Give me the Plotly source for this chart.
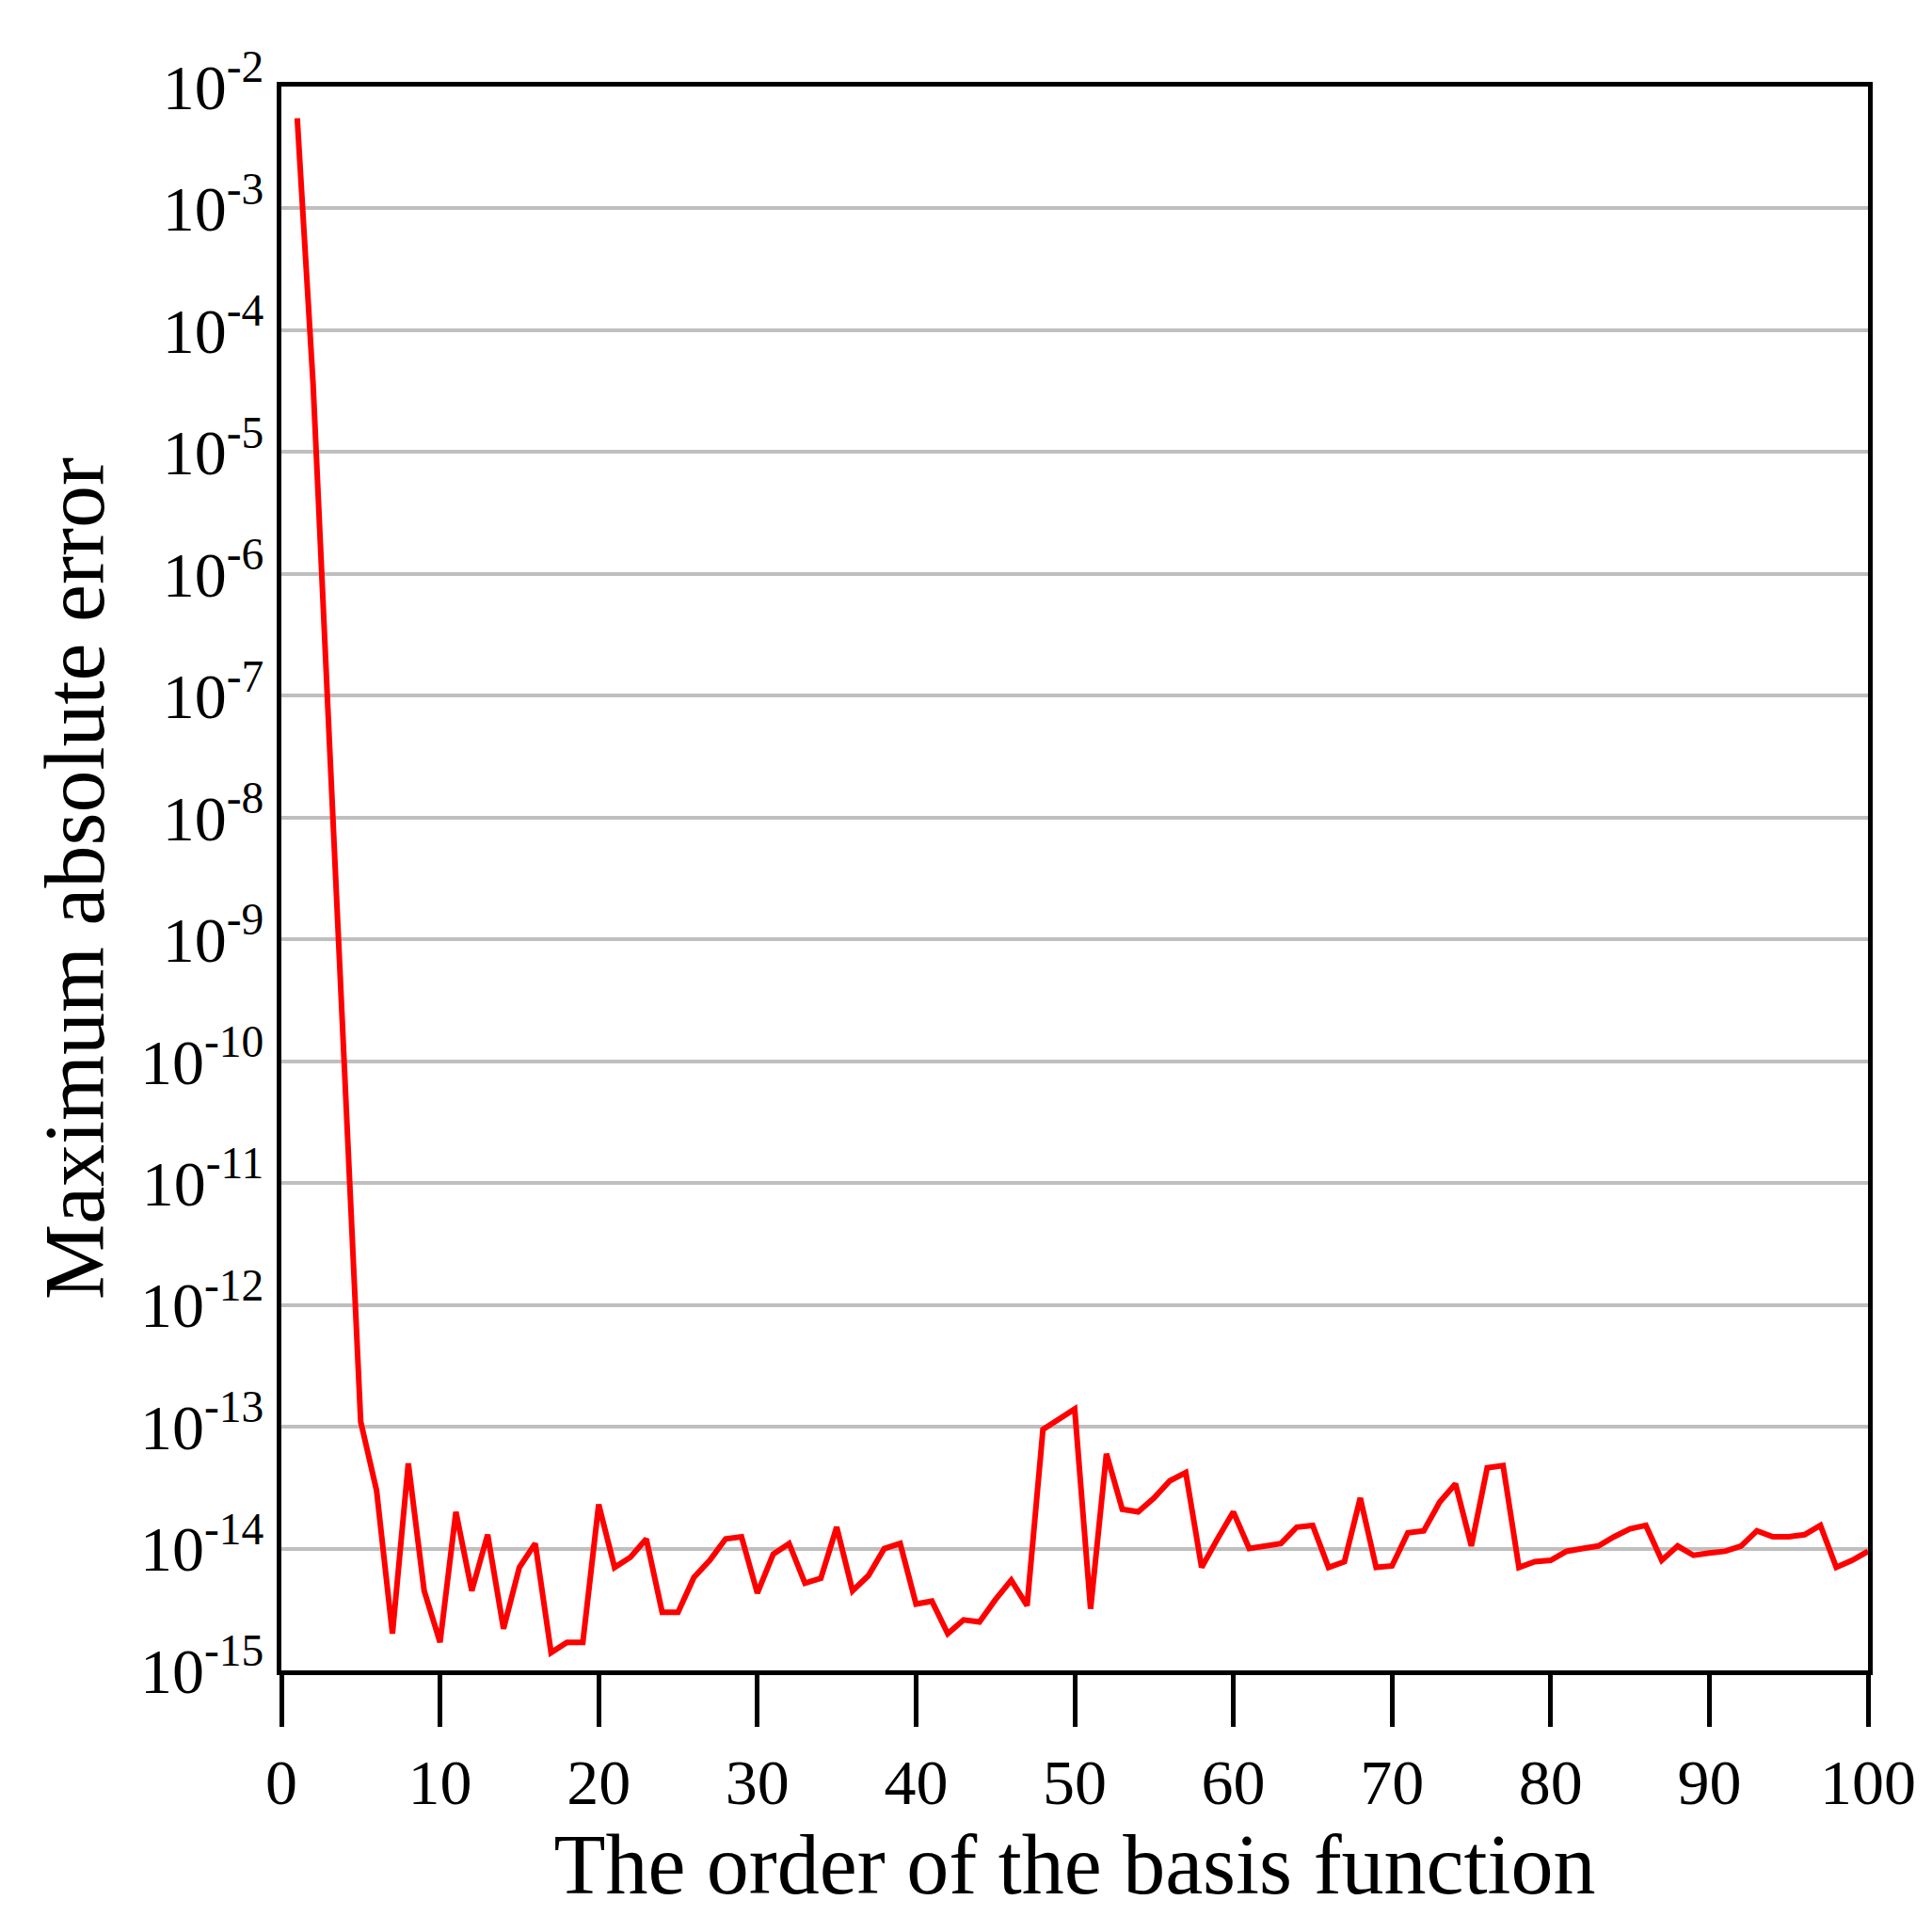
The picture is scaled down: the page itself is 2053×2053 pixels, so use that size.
import plotly.graph_objects as go

# --- data ---
order = list(range(1, 101))
max_abs_error = [
    5.5e-3, 3.6e-5, 5e-8, 8e-11, 1.1e-13, 3e-14, 2e-15, 5e-14, 4.5e-15, 1.7e-15,
    2e-14, 4.5e-15, 1.3e-14, 2.2e-15, 7e-15, 1.1e-14, 1.4e-15, 1.7e-15, 1.7e-15, 2.3e-14,
    7e-15, 8.5e-15, 1.2e-14, 3e-15, 3e-15, 5.8e-15, 8e-15, 1.2e-14, 1.25e-14, 4.3e-15,
    9e-15, 1.1e-14, 5.2e-15, 5.7e-15, 1.5e-14, 4.5e-15, 6e-15, 1e-14, 1.1e-14, 3.5e-15,
    3.7e-15, 2e-15, 2.6e-15, 2.5e-15, 3.8e-15, 5.5e-15, 3.4e-15, 9.5e-14, 1.15e-13, 1.4e-13,
    3.2e-15, 6e-14, 2.1e-14, 2e-14, 2.6e-14, 3.6e-14, 4.2e-14, 7e-15, 1.2e-14, 2e-14,
    1e-14, 1.05e-14, 1.1e-14, 1.5e-14, 1.55e-14, 7e-15, 7.8e-15, 2.6e-14, 7e-15, 7.2e-15,
    1.35e-14, 1.4e-14, 2.4e-14, 3.4e-14, 1.05e-14, 4.6e-14, 4.8e-14, 7e-15, 7.8e-15, 8e-15,
    9.5e-15, 1e-14, 1.05e-14, 1.25e-14, 1.45e-14, 1.55e-14, 8e-15, 1.05e-14, 8.8e-15, 9.2e-15,
    9.5e-15, 1.05e-14, 1.4e-14, 1.25e-14, 1.25e-14, 1.3e-14, 1.55e-14, 7e-15, 8e-15, 9.5e-15,
]
exponents = list(range(-15, -1))
y_tickvals = [10.0 ** e for e in exponents]
y_ticktext = [f"10<sup>{e}</sup>" for e in exponents]
x_tickvals = list(range(0, 101, 10))

FONT = "Liberation Serif, Times New Roman, serif"

fig = go.Figure(go.Scatter(
    x=order, y=max_abs_error, mode="lines",
    line=dict(color="#ff0000", width=6),
    showlegend=False,
))

fig.update_layout(
    width=2053, height=2053,
    paper_bgcolor="white", plot_bgcolor="white",
    margin=dict(l=291, r=76, t=84, b=286),
    font=dict(family=FONT, size=68, color="black"),
)

fig.update_xaxes(
    range=[0, 100], tickvals=x_tickvals,
    ticks="outside", ticklen=55, tickwidth=5, tickcolor="black",
    showgrid=False, zeroline=False,
    showline=True, linecolor="black", linewidth=5, mirror=True,
    title=dict(text="The order of the basis function", font=dict(size=90), standoff=5),
)
fig.update_yaxes(
    type="log", range=[-15, -2],
    tickvals=y_tickvals, ticktext=y_ticktext, ticks="",
    showgrid=True, gridcolor="#bfbfbf", gridwidth=4,
    zeroline=False,
    showline=True, linecolor="black", linewidth=5, mirror=True,
    title=dict(text="Maximum absolute error", font=dict(size=90), standoff=10),
)

fig.write_html("out.html")
